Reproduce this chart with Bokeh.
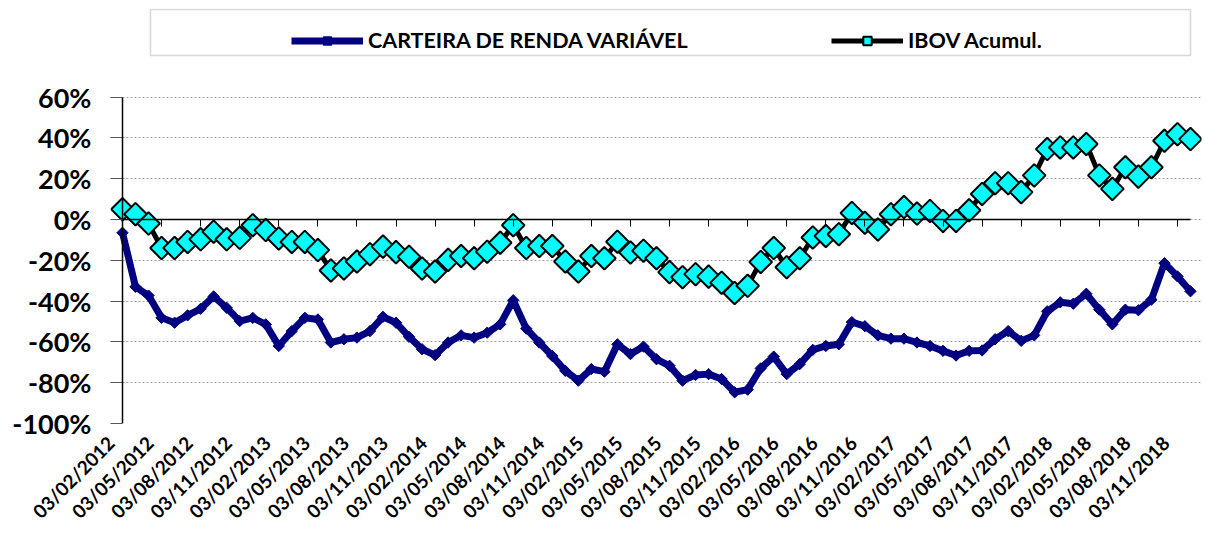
import math
from bokeh.plotting import figure
from bokeh.models import (Range1d, FixedTicker, PrintfTickFormatter, LinearAxis, Legend,
                          LegendItem, BoxAnnotation, CustomJSTickFormatter)
from bokeh.embed import file_html
from bokeh.resources import INLINE

# Monthly cumulative returns (%), 03/02/2012 .. 03/12/2018
carteira = [-6.5, -33.0, -37.3, -48.2, -50.6, -47.0, -43.8, -37.7, -43.3, -49.8,
            -48.2, -51.4, -62.0, -54.7, -48.2, -49.0, -60.3, -58.7, -57.9, -54.7,
            -47.7, -50.6, -57.5, -63.6, -66.5, -60.3, -56.8, -57.9, -55.5, -51.4,
            -39.6, -53.5, -60.3, -66.9, -74.2, -79.0, -73.3, -74.6, -61.2, -66.0,
            -62.3, -68.5, -71.7, -79.0, -76.2, -75.8, -78.2, -84.7, -83.4, -73.0,
            -67.2, -75.8, -70.9, -63.9, -62.0, -61.2, -50.3, -52.3, -56.8, -58.4,
            -58.4, -60.3, -62.0, -64.4, -66.7, -64.4, -64.2, -58.7, -54.7, -59.5,
            -56.8, -45.0, -40.6, -41.3, -36.4, -44.2, -51.4, -44.2, -44.5, -39.3,
            -21.4, -27.9, -35.2]

ibov = [5.0, 2.6, -2.0, -14.0, -14.0, -11.0, -9.7, -6.0, -9.7, -9.0,
        -2.8, -5.2, -9.3, -11.0, -11.0, -15.0, -25.0, -24.0, -20.6, -17.0,
        -13.3, -16.0, -18.3, -24.0, -25.5, -19.8, -17.9, -19.0, -15.8, -11.4,
        -2.8, -14.0, -13.0, -13.0, -20.6, -25.5, -17.9, -19.0, -10.9, -16.2,
        -15.3, -19.0, -25.8, -28.3, -26.8, -28.0, -31.0, -36.0, -32.5, -20.8,
        -14.0, -23.4, -19.0, -8.8, -8.1, -7.2, 3.2, -1.6, -4.9, 2.6,
        6.1, 2.9, 4.2, -0.7, -0.7, 4.5, 12.5, 17.8, 17.8, 13.4,
        21.6, 34.5, 35.3, 35.3, 37.0, 21.6, 15.0, 25.6, 21.0, 25.6,
        38.6, 41.8, 39.4]

tick_labels = ["03/02/2012", "03/05/2012", "03/08/2012", "03/11/2012",
               "03/02/2013", "03/05/2013", "03/08/2013", "03/11/2013",
               "03/02/2014", "03/05/2014", "03/08/2014", "03/11/2014",
               "03/02/2015", "03/05/2015", "03/08/2015", "03/11/2015",
               "03/02/2016", "03/05/2016", "03/08/2016", "03/11/2016",
               "03/02/2017", "03/05/2017", "03/08/2017", "03/11/2017",
               "03/02/2018", "03/05/2018", "03/08/2018", "03/11/2018"]

y_ticks = [-100, -80, -60, -40, -20, 0, 20, 40, 60]

x = list(range(len(ibov)))
tick_pos = [3 * i for i in range(len(tick_labels))]

FONT = "Lato"
LABEL_SHIFT = -0.9   # rotated labels sit slightly left of their tick, as in the original

# frame: 110..1201 px horizontally, 8..425 px vertically (top part hosts the legend)
px_per_pct = 328 / 160.0
y_top = max(y_ticks) + 89 / px_per_pct

p = figure(width=1203, height=533, output_backend="svg", toolbar_location=None,
           x_range=Range1d(-0.921, 82.845), y_range=Range1d(min(y_ticks), y_top),
           min_border_left=110, min_border_right=2, min_border_top=8,
           min_border_bottom=108)
p.outline_line_color = None
p.background_fill_color = "white"
p.border_fill_color = "white"

# Left axis: labels + ticks reaching in to the category axis
p.yaxis.ticker = FixedTicker(ticks=y_ticks)
p.yaxis.formatter = PrintfTickFormatter(format="%d%%")
p.yaxis.major_label_text_font = FONT
p.yaxis.major_label_text_font_style = "bold"
p.yaxis.major_label_text_font_size = "27px"
p.yaxis.major_label_text_color = "black"
p.yaxis.major_tick_in = 12
p.yaxis.major_tick_out = 0
p.yaxis.major_tick_line_color = "#595959"
p.yaxis.minor_tick_line_color = None
p.yaxis.axis_line_color = None
p.yaxis.major_label_standoff = 19

# Vertical axis line crossing at first category
v_axis = LinearAxis(fixed_location=0, bounds=(min(y_ticks), max(y_ticks)),
                    ticker=FixedTicker(ticks=[]), major_tick_in=0, major_tick_out=0,
                    major_label_standoff=0, major_label_text_font_size="0px",
                    axis_line_color="black", axis_line_width=1.5,
                    minor_tick_line_color=None)
p.add_layout(v_axis, "right")

# X axis labels (bottom)
label_pos = [round(t + LABEL_SHIFT, 3) for t in tick_pos]
p.xaxis.ticker = FixedTicker(ticks=label_pos)
p.xaxis.major_label_overrides = {pos: lab for pos, lab in zip(label_pos, tick_labels)}
p.xaxis.major_label_orientation = math.pi / 4
p.xaxis.major_label_text_font = FONT
p.xaxis.major_label_text_font_style = "bold"
p.xaxis.major_label_text_font_size = "19px"
p.xaxis.major_label_text_color = "black"
p.xaxis.axis_line_color = None
p.xaxis.major_tick_line_color = None
p.xaxis.minor_tick_line_color = None
p.xaxis.major_tick_in = 0
p.xaxis.major_tick_out = 0
p.xaxis.major_label_standoff = 16

# X axis line at zero with ticks pointing down
zero_axis = LinearAxis(fixed_location=0, bounds=(0, len(ibov) - 1),
                       ticker=FixedTicker(ticks=tick_pos),
                       formatter=CustomJSTickFormatter(code="return ''"),
                       major_tick_in=7, major_tick_out=0, major_label_standoff=0,
                       major_label_text_font_size="0px",
                       major_tick_line_color="black", axis_line_color="black",
                       axis_line_width=1.5, minor_tick_line_color=None)
p.add_layout(zero_axis, "above")

p.xgrid.visible = False
p.ygrid.ticker = FixedTicker(ticks=y_ticks)
p.ygrid.grid_line_color = "#a0a0a0"
p.ygrid.grid_line_dash = "2 2"
p.ygrid.grid_line_width = 1

c_line = p.line(x, carteira, line_color="#000080", line_width=7)
c_pts = p.scatter(x, carteira, marker="square", angle=math.pi / 4, size=8,
                  fill_color="#000080", line_color="#000080")
i_line = p.line(x, ibov, line_color="black", line_width=5)
i_pts = p.scatter(x, ibov, marker="square", angle=math.pi / 4, size=16,
                  fill_color="#00FFFF", line_color="black", line_width=2)

legend = Legend(items=[LegendItem(label="CARTEIRA DE RENDA VARIÁVEL", renderers=[c_line, c_pts]),
                       LegendItem(label="IBOV Acumul.", renderers=[i_line, i_pts])],
                orientation="horizontal", location=(181, 370),
                glyph_width=72, glyph_height=21, label_height=21, label_width=320,
                spacing=143, padding=13, label_standoff=5,
                border_line_color=None, background_fill_alpha=0,
                label_text_font=FONT, label_text_font_style="bold",
                label_text_font_size="21.5px", label_text_color="black")
p.add_layout(legend, "center")

box = BoxAnnotation(left=150, right=1190, top=9, bottom=55,
                    left_units="canvas", right_units="canvas",
                    top_units="canvas", bottom_units="canvas",
                    fill_color=None, line_color="#7f7f7f", line_width=1.5,
                    level="overlay")
p.add_layout(box)

open("out.html", "w").write(file_html(p, INLINE))
